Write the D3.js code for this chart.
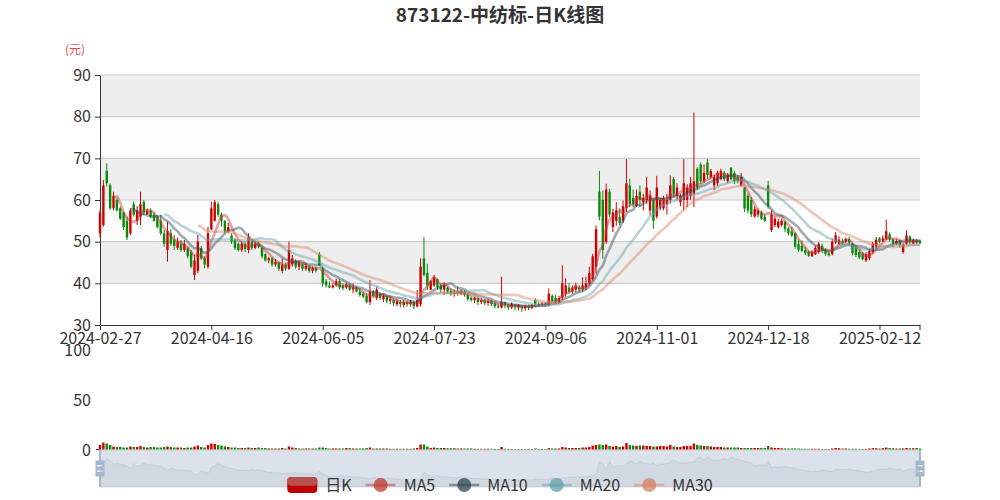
<!DOCTYPE html>
<html><head><meta charset="utf-8">
<script src="https://cdn.jsdelivr.net/npm/d3@7"></script>
<style>
body{margin:0;background:#fff}
svg{display:block}
text{font-family:"Noto Sans CJK SC","Noto Sans",sans-serif}
</style>
</head><body>
<svg id="chart" width="1000" height="500"></svg>
<script>
const chartTitle = "873122-中纺标-日K线图";
const unitLabel = "(元)";

// trading days, grouped by month
const tradingMonths = [
  ["2024-02",[27,28,29]],
  ["2024-03",[1,4,5,6,7,8,11,12,13,14,15,18,19,20,21,22,25,26,27,28,29]],
  ["2024-04",[1,2,3,8,9,10,11,12,15,16,17,18,19,22,23,24,25,26,29,30]],
  ["2024-05",[6,7,8,9,10,13,14,15,16,17,20,21,22,23,24,27,28,29,30,31]],
  ["2024-06",[3,4,5,6,7,11,12,13,14,17,18,19,20,21,24,25,26,27,28]],
  ["2024-07",[1,2,3,4,5,8,9,10,11,12,15,16,17,18,19,22,23,24,25,26,29,30,31]],
  ["2024-08",[1,2,5,6,7,8,9,12,13,14,15,16,19,20,21,22,23,26,27,28,29,30]],
  ["2024-09",[2,3,4,5,6,9,10,11,12,13,18,19,20,23,24,25,26,27,30]],
  ["2024-10",[8,9,10,11,14,15,16,17,18,21,22,23,24,25,28,29,30,31]],
  ["2024-11",[1,4,5,6,7,8,11,12,13,14,15,18,19,20,21,22,25,26,27,28,29]],
  ["2024-12",[2,3,4,5,6,9,10,11,12,13,16,17,18,19,20,23,24,25,26,27,30,31]],
  ["2025-01",[2,3,6,7,8,9,10,13,14,15,16,17,20,21,22,23,24,27]],
  ["2025-02",[5,6,7,10,11,12,13,14,17,18,19,20,21,24,25,26,27,28]]
];
const dates = tradingMonths.flatMap(([m, ds]) => ds.map(d => m + "-" + String(d).padStart(2, "0")));

// [open, close, low, high]
const candles = [
[52,57,51,57.6],[54,63.5,53.6,64.8],[67,64,63.2,68.8],[63.5,58,57.6,64],[58,61,57.5,62],
[60,57.5,57.2,60.4],[58,55.5,55.2,58.4],[57,53.5,52.8,57.2],[55,51,50.4,56],[52,57.5,51.6,58],
[59,56.5,56,59.6],[55,57.5,54,58.5],[56,59,54,62],[59.5,57,56.4,60],[56.5,57.5,56.4,58],
[57.5,56,55.6,58],[56.5,55,54.8,57],[56,53.5,53.2,56.4],[55,52,51.6,56.4],[52,49.5,48.8,52.8],
[48,52.5,45.2,54.8],[52,49.5,49,53],[50.5,49,48,51.6],[48.5,50,48,51],[49.5,48,47.6,50.4],
[48,49.5,47.5,50.4],[48.5,46.5,46,48.8],[47.5,44,43.6,48],[42,45.5,40.8,46.8],[43,50,42.4,51.6],
[48.5,46,45.6,49],[46,44.5,43.6,46.5],[44,52,43.5,53.5],[53,58,52.8,59.6],[55,59.5,54.8,60],
[59,56.5,56,59.6],[56.5,55,53.6,57],[55,52.5,52,55.2],[52.5,53.5,52,54.5],[51.5,50,49.5,52],
[50.5,48.5,48,50.8],[49.5,48,47.6,49.8],[48,49.5,47.5,50],[49.5,48.2,47.5,50],[48,51,47.2,52],
[50,48.5,48,50.5],[48.5,49.5,48.2,50],[49.5,48.8,48.4,50],[48.5,46.5,46,48.6],[47,45.5,45.2,47.2],
[45.5,46,44.8,46.4],[46,44.5,44,46.2],[44.5,45.2,44,45.8],[45,43.5,43,45.2],[43,44.5,42.4,46],
[44.5,43.5,43,45],[43.5,48,43.2,50],[44.5,46,44,46.8],[45.5,44,43.5,45.8],[44,44.8,43.2,45.5],
[44.5,43.5,43,44.8],[43.5,44.2,43,44.8],[44,43,42.6,44.3],[43,43.8,42.4,44],[43.8,43,42.6,44],
[47,44.3,44.2,47.5],[43.5,40,39.2,43.9],[40.5,39.5,39,41],[39.5,39,38.8,40.4],[39,39.5,38.8,40],
[39.5,40.5,39.2,41.1],[40.5,39,38.6,41],[39.5,38.8,38.4,40],[39,39.8,38.6,40.2],[39.5,38.5,38.2,39.8],
[38.5,39,37.6,40],[39,38,37.8,39.2],[38,37.2,36.8,38.8],[37.5,36.8,36.4,38],[37,35.5,35.2,37.6],
[35.5,38,34.8,40.8],[38,37,36.6,38.4],[36.5,38.5,36,39.2],[37.5,36.5,36,37.8],[36.2,37,35.5,37.4],
[36.8,35.8,35.2,37],[35.8,36.2,35,36.8],[36,35.2,34.6,36.4],[35,35.8,34.5,36.2],[35.5,35,34.2,36],
[34.8,35.5,34.2,36],[35.5,35,34.4,35.8],[35,35.6,34.4,36],[35.5,34.5,33.8,35.8],[34.5,36,34.2,38.4],
[35,44,34.4,46],[46,42,41.6,51.1],[42.5,39.5,38.4,44.7],[38.5,40.5,38.4,40.8],[39.5,41.5,39.2,42],
[41,39,38.5,41.2],[39.5,38.5,37.8,40],[38.5,39.5,37.2,40.3],[39,38,37.5,39.2],[38.2,37.5,37,38.8],
[37.5,37.8,36.8,38.4],[38,37.5,37,39.2],[37.5,38.2,37.2,38.6],[38,37.2,36.8,38.4],[37.2,36.2,35.8,37.6],
[36.5,36,35.6,36.8],[36,36.5,35.2,36.8],[36.4,35.5,34.8,36.6],[35.5,36,35,36.4],[36,35.2,34.8,36.2],
[35.3,35.8,34.6,36.2],[35.8,35,34.5,36],[35.2,34.5,34,35.6],[34.5,34.2,34,35],[34.2,35.5,34,41.6],
[35.5,34.8,34,35.6],[34.8,34.2,33.6,35],[34.2,35,33.8,35.4],[34.8,34.2,33.6,35],[34.2,34.8,33.5,35],
[34.5,34,33.2,34.8],[34,34.6,33.4,34.8],[34.5,34.2,33.6,34.8],[34.2,34.8,33.8,35],[36,35,34.4,36.4],
[35,34.8,34.5,35.6],[34.8,35.2,34.5,35.6],[35.2,34.8,34.4,35.5],[34.8,37.5,34.4,38.8],[37,35.8,35.5,37.4],
[36.5,35.5,35,37.2],[35.5,36.5,35.2,37],[36.5,40,36,44.3],[37.5,39.5,36.8,41.2],[39,38,37.6,40],
[38,39,37.5,39.5],[38.5,39.5,37.8,40.2],[39,38.5,37.8,39.6],[38.5,39.5,38,41.5],[39,40,38.4,41.6],
[40,42.5,39.5,44],[41,46.5,40.7,47.1],[44,53,42.3,53.9],[62,56,55.1,67],[60,48,45.9,62.3],
[50,62.5,49.5,63.9],[62,56.5,55.9,62.7],[53.5,57,52.3,57.9],[55,57.5,53.8,59.5],[56,54.5,54,58],
[55,58.5,54.5,59.9],[58,64,57.1,69.8],[63.5,59,58.3,65.1],[60.5,59,58.3,62.5],[58.5,61,58.3,62.5],
[62,60,58.3,63.5],[59.5,60.5,57.5,61.5],[60,63,59.1,65.5],[57.5,61,56.3,62.3],[60,55,53.1,60.5],
[56,63,55.5,65.8],[58,60,57.5,60.5],[58,60.5,57.5,61],[59,60,56.5,61.5],[60,63.5,59.1,65.9],
[65,61.5,60.7,65.5],[61,63,60,64],[59.5,61,58.5,61.5],[60,64,57.5,69.8],[60,63,58.3,63.8],
[61,64,60,65.5],[61.5,64.5,58.3,81],[67.5,63,62.3,67.9],[68.5,64.5,63.9,69],[64.5,66.5,64,68.5],
[69,66,65.1,69.8],[65.5,67,65,67.5],[63.5,65.5,62.3,66],[64,66.5,63.3,67],[65,67,64.7,67.5],
[66.5,65,64.5,67],[64.5,66,64,66.5],[67.8,65,64.7,67.8],[66.5,64.5,63.8,67],[65.5,64.5,64,66],
[63.5,65.5,63.2,66.5],[63,58,57.1,63.1],[61,57.5,56.8,61.5],[60,56.5,55.9,60.7],[56,57.8,55.8,58.5],
[56.5,57.5,55.9,58],[57,55.5,55.2,57.5],[56,55,54.8,56.5],[63.5,58.5,57.9,64.6],[52.8,56.5,52.3,57.5],
[54,55.5,53.5,56],[53.5,54.8,53.1,55.5],[54,55,53.6,55.5],[54.8,53,52.3,55],[53.2,52,51.5,53.5],
[52.5,51.5,51.1,53.5],[52,48.8,48.3,52.3],[49.5,48,47.6,50.5],[49,47.8,47.5,50.3],[48,47.2,46.8,48.7],
[47.6,46.6,46.3,47.9],[46.5,47.5,46.3,47.9],[47,48.5,46.8,49],[47.5,49.5,47.1,49.9],[49,47.8,47.3,49.5],
[48,47,46.6,48.4],[47.2,46.7,46.5,47.6],[47,50,46.7,50.7],[49.8,51.5,49.5,52.3],[49.5,50.5,49.2,51.3],
[50.2,49.6,49.2,50.8],[50,50.6,49.6,51],[50.6,49.8,49.3,51.1],[49.5,47.2,46.7,49.8],[48.5,46.8,46.3,49.2],
[47.5,46.2,45.8,48],[47.2,45.8,45.5,47.5],[45.5,47,45.1,47.5],[46,47.8,45.5,48.2],[47.5,49.5,47.1,49.9],
[48.8,50.5,48.4,51.1],[50.8,50,49.6,51.1],[50.2,50.8,49.9,51.5],[50.5,52.5,50.3,55.3],[51.8,50.5,50,52.2],
[50.5,49.6,48.7,50.8],[49.5,50.2,49.2,50.6],[50.2,49.2,48.6,50.4],[47.5,49.2,47.1,49.5],[49.5,51.5,49.2,52.7],
[51.2,50,49.5,51.5],[49.5,50.3,49.4,50.7],[50.3,49.8,49.4,50.6],[50.2,49.7,49.4,50.5]
];

const volumes = [
5,7.5,6.5,5,3.5,3,3,2.5,2.5,3.5,
3,3,4,3,2.5,3,3,2.5,2.5,3,
3.5,3,2.5,2.5,2.5,2,2.5,2.5,3.5,4.5,
3,2.5,5,6.5,6,5,4.5,3.5,3,2.5,
2.5,2,2,2,2.5,2,2,2.5,2,2,
1.5,1.5,1.5,1.5,2,1.5,3.5,2.5,2,1.5,
1.5,1.5,1.5,1.5,1.5,2.5,2.5,2,1.5,1.5,
1.5,1.5,1.5,2,2,1.5,1.5,1.5,1.5,2,
2.5,1.5,1.5,1.5,1.5,1.5,1.2,1.2,1.2,1.2,
1.2,1.2,1.2,1.5,2,5.5,5.5,3.5,2,2.5,
2,2,2,1.8,1.8,1.8,1.5,1.5,1.5,1.5,
1.5,1.2,1.2,1.2,1.2,1.2,1.2,1,1,3,
1.2,1,1,1,1,1,1,1,1,1.5,
1,1,1,1.8,1.5,1.5,1.5,3,2.5,2,
2,2,2,2.5,2.5,3,4.5,5,5.5,5,
5.5,4,3.5,4,3,3.5,7,5,4.5,4,
4.5,4.5,4,4,3.5,3.5,4,4,3.5,5,
3.5,3,3,4,4,4,6.5,5,4.5,4,
4,3.5,3,3,3,2.5,2.5,2.5,2.5,2.5,
2,2,2,2,2,2,2,2,4,2.5,
2,2,1.8,1.5,1.5,1.5,1.5,1.5,1.2,1.2,
1.2,1.2,1.2,1.2,1,1,1,1.5,2,1.8,
1.5,1.5,1.2,1.2,1.2,1,1,1.2,1.5,1.8,
1.8,1.5,1.8,2.5,2,1.8,1.5,1.5,1.5,2,
1.8,1.8,2,1.5
];

const priceTicks = [30,40,50,60,70,80,90];
const volumeTicks = [0,50,100];
const maPeriods = [5,10,20,30];
const maNames = ["MA5","MA10","MA20","MA30"];
const maColors = ["#c23531","#2f4554","#61a0a8","#d48265"];
const candleName = "日K";
const labelEvery = 33;

const upColor = "#d10000", downColor = "#0b8a0b";
const axisColor = "#333", labelColor = "#333";

const svg = d3.select("#chart");
const L = 100, R = 920, T = 75, B = 325;
const VT = 350, VB = 450;

const x = d3.scalePoint().domain(dates).range([L, R]).padding(0);
const y = d3.scaleLinear().domain([30, 90]).range([B, T]);
const yv = d3.scaleLinear().domain([0, 100]).range([VB, VT]);

// title
svg.append("text").attr("x", 500).attr("y", 22).attr("text-anchor", "middle")
  .attr("font-size", 19).attr("font-weight", "bold").attr("fill", "#333").text(chartTitle);
svg.append("text").attr("x", 75).attr("y", 54).attr("text-anchor", "middle")
  .attr("font-size", 12).attr("fill", "#e84a4a").text(unitLabel);

// split areas & lines
const gGrid = svg.append("g");
for (let i = 0; i < priceTicks.length - 1; i++) {
  gGrid.append("rect").attr("x", L).attr("width", R - L)
    .attr("y", y(priceTicks[i + 1])).attr("height", y(priceTicks[i]) - y(priceTicks[i + 1]))
    .attr("fill", i % 2 === 0 ? "rgba(250,250,250,0.3)" : "rgba(200,200,200,0.3)");
}
priceTicks.slice(1).forEach(t => {
  gGrid.append("line").attr("x1", L).attr("x2", R).attr("y1", y(t)).attr("y2", y(t))
    .attr("stroke", "#ccc").attr("stroke-width", 1.2);
});

// axes
function styleAxis(g) {
  g.select(".domain").attr("stroke", axisColor);
  g.selectAll(".tick line").attr("stroke", axisColor);
  g.selectAll("text").attr("fill", labelColor).attr("font-size", 16)
    .style("font-family", '"Noto Sans CJK SC","Noto Sans",sans-serif');
}
const gy = svg.append("g").attr("transform", `translate(${L},0)`)
  .call(d3.axisLeft(y).tickValues(priceTicks).tickSize(5).tickPadding(4).tickSizeOuter(0));
styleAxis(gy);
const gx = svg.append("g").attr("transform", `translate(0,${B})`)
  .call(d3.axisBottom(x).tickValues(dates.filter((d, i) => i % labelEvery === 0)).tickSize(5).tickPadding(3).tickSizeOuter(0));
styleAxis(gx);
gx.append("line").attr("x1", R).attr("x2", R).attr("y1", 0).attr("y2", 5).attr("stroke", axisColor);

// volume axis labels
const gvy = svg.append("g").attr("transform", `translate(${L},0)`)
  .call(d3.axisLeft(yv).tickValues(volumeTicks).tickSize(0).tickPadding(9));
gvy.select(".domain").remove();
styleAxis(gvy);
svg.append("path").attr("d", `M${L - 4},${VB - 0.5}H${L + 0.5}V${VB - 5}`).attr("fill", "none").attr("stroke", axisColor);

// candles
const bodyW = 2.4;
const gC = svg.append("g");
candles.forEach((c, i) => {
  const [o, cl, lo, hi] = c;
  const col = cl >= o ? upColor : downColor;
  const cx = x(dates[i]);
  gC.append("line").attr("x1", cx).attr("x2", cx).attr("y1", y(hi)).attr("y2", y(lo))
    .attr("stroke", col).attr("stroke-width", 1);
  const top = y(Math.max(o, cl)), bot = y(Math.min(o, cl));
  gC.append("rect").attr("x", cx - bodyW / 2).attr("width", bodyW)
    .attr("y", top).attr("height", Math.max(1, bot - top)).attr("fill", col);
});

// moving averages
const closes = candles.map(c => c[1]);
function movingAverage(n) {
  return closes.map((v, i) => i < n - 1 ? null : d3.mean(closes.slice(i - n + 1, i + 1)));
}
const lineGen = d3.line().defined(d => d[1] != null).x(d => x(dates[d[0]])).y(d => y(d[1])).curve(d3.curveMonotoneX);
maPeriods.forEach((n, k) => {
  const ma = movingAverage(n).map((v, i) => [i, v]);
  svg.append("path").attr("d", lineGen(ma)).attr("fill", "none")
    .attr("stroke", maColors[k]).attr("stroke-opacity", 0.45).attr("stroke-width", 2.6)
    .attr("stroke-linejoin", "round");
});

// volume bars
const gV = svg.append("g");
volumes.forEach((v, i) => {
  const c = candles[i];
  gV.append("rect").attr("x", x(dates[i]) - bodyW / 2).attr("width", bodyW)
    .attr("y", yv(v)).attr("height", VB - yv(v))
    .attr("fill", c[1] >= c[0] ? upColor : downColor);
});

// data zoom slider
const SZ = { x: L, y: 450, w: R - L, h: 37 };
const gS = svg.append("g").attr("transform", `translate(${SZ.x},${SZ.y})`);
gS.append("rect").attr("width", SZ.w).attr("height", SZ.h).attr("fill", "none").attr("stroke", "#ddd");
const opens = candles.map(c => c[0]);
const ext = d3.extent(opens);
const off = (ext[1] - ext[0]) * 0.3;
const sy = d3.scaleLinear().domain([ext[0] - off, ext[1] + off]).range([SZ.h, 0]);
const sx = d3.scaleLinear().domain([0, opens.length - 1]).range([0, SZ.w]);
const areaS = d3.area().x((d, i) => sx(i)).y0(SZ.h).y1(d => sy(d));
const lineS = d3.line().x((d, i) => sx(i)).y(d => sy(d));
gS.append("path").attr("d", areaS(opens)).attr("fill", "rgba(47,69,84,0.09)");
gS.append("path").attr("d", lineS(opens)).attr("fill", "none").attr("stroke", "rgba(47,69,84,0.3)").attr("stroke-width", 0.5);
gS.append("rect").attr("width", SZ.w).attr("height", SZ.h).attr("fill", "rgba(167,183,204,0.4)");
const handleIcon = "M8.2,13.6V3.9H6.3v9.7H3.1v14.9h3.3v9.7h1.8v-9.7h3.3V13.6H8.2z M9.7,24.4H4.8v-1.4h4.9V24.4z M9.7,19.1H4.8v-1.4h4.9V19.1z";
const hs = SZ.h / 34.3;
[0, SZ.w].forEach(hx => {
  gS.append("path").attr("d", handleIcon).attr("fill", "#a7b7cc").attr("fill-rule", "evenodd")
    .attr("transform", `translate(${hx},0) scale(${hs}) translate(-7.3,-3.9)`);
});

// legend
const gL = svg.append("g");
const items = [candleName].concat(maNames);
const iconW = 30, iconH = 16, textGap = 8, itemGap = 14, ly = 485;
const widths = items.map(name => {
  const t = gL.append("text").attr("font-size", 16).text(name);
  const w = t.node().getComputedTextLength(); t.remove(); return w;
});
const total = d3.sum(widths) + items.length * (iconW + textGap) + (items.length - 1) * itemGap;
let cx0 = 500 - total / 2;
items.forEach((name, k) => {
  const g = gL.append("g").attr("transform", `translate(${cx0},${ly})`);
  if (k === 0) {
    g.append("rect").attr("x", 0).attr("y", -iconH / 2).attr("width", iconW).attr("height", iconH)
      .attr("rx", 4).attr("fill", "#c00000");
    g.append("rect").attr("x", 0).attr("y", -iconH / 2).attr("width", iconW).attr("height", iconH * 0.55)
      .attr("rx", 4).attr("fill", "#b85050");
  } else {
    const col = maColors[k - 1];
    g.append("line").attr("x1", 0).attr("x2", iconW).attr("y1", 0).attr("y2", 0)
      .attr("stroke", col).attr("stroke-opacity", 0.5).attr("stroke-width", 2.5);
    g.append("circle").attr("cx", iconW / 2).attr("cy", 0).attr("r", 7)
      .attr("fill", col).attr("fill-opacity", 0.75);
  }
  g.append("text").attr("x", iconW + textGap).attr("y", 0).attr("dy", "0.35em")
    .attr("font-size", 16).attr("fill", "#333").text(name);
  cx0 += iconW + textGap + widths[k] + itemGap;
});
</script>
</body></html>
